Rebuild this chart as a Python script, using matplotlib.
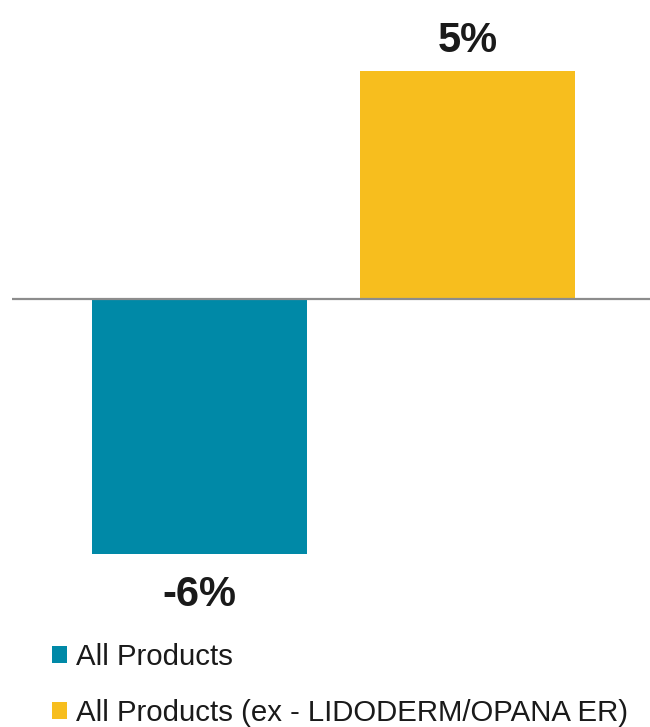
import matplotlib
matplotlib.use("Agg")
import matplotlib.pyplot as plt
from matplotlib.patches import Patch

# ── Data ──────────────────────────────────────────────────────────────────────
series = ["All Products", "All Products (ex - LIDODERM/OPANA ER)"]
values = [-5.6, 5.0]
labels = ["-6%", "5%"]
colors = ["#0089A7", "#F7BE1E"]

W, H, DPI = 650, 727, 100
plt.rcParams["font.family"] = ["Liberation Sans", "DejaVu Sans"]

fig = plt.figure(figsize=(W / DPI, H / DPI), dpi=DPI)
# axes spans x 12..650 px, y 0..620 px (from top)
ax = fig.add_axes([12 / W, (H - 620) / H, (W - 12) / W, 620 / H])

xs = list(range(len(values)))
ax.bar(xs, values, width=0.80, color=colors, zorder=2)
ax.axhline(0, color="#8c8c8c", lw=1.6, zorder=3)

# pixel mapping: x=0 at 199.5 px, 268 px per unit; y=0 at 299 px, 45.6 px per unit
ax.set_xlim(-187.5 / 268, (650 - 199.5) / 268)
ax.set_ylim(-(620 - 299) / 45.6, 299 / 45.6)
ax.axis("off")

for x, v, lab in zip(xs, values, labels):
    off = 13.7 if v >= 0 else -37.0
    ax.annotate(lab, (x, v), xytext=(0, off), textcoords="offset points",
                ha="center", va="baseline", fontsize=30, fontweight="bold",
                color="#1a1a1a")

handles = [Patch(facecolor=c, edgecolor="none") for c in colors]
fig.legend(handles, series, loc="upper left",
           bbox_to_anchor=(52 / W, 1 - 643 / H), frameon=False,
           fontsize=21.2, handlelength=0.52, handleheight=0.52,
           handletextpad=0.28, labelspacing=0.95, borderpad=0,
           borderaxespad=0, labelcolor="#1a1a1a")

fig.savefig("out.png", dpi=DPI)
